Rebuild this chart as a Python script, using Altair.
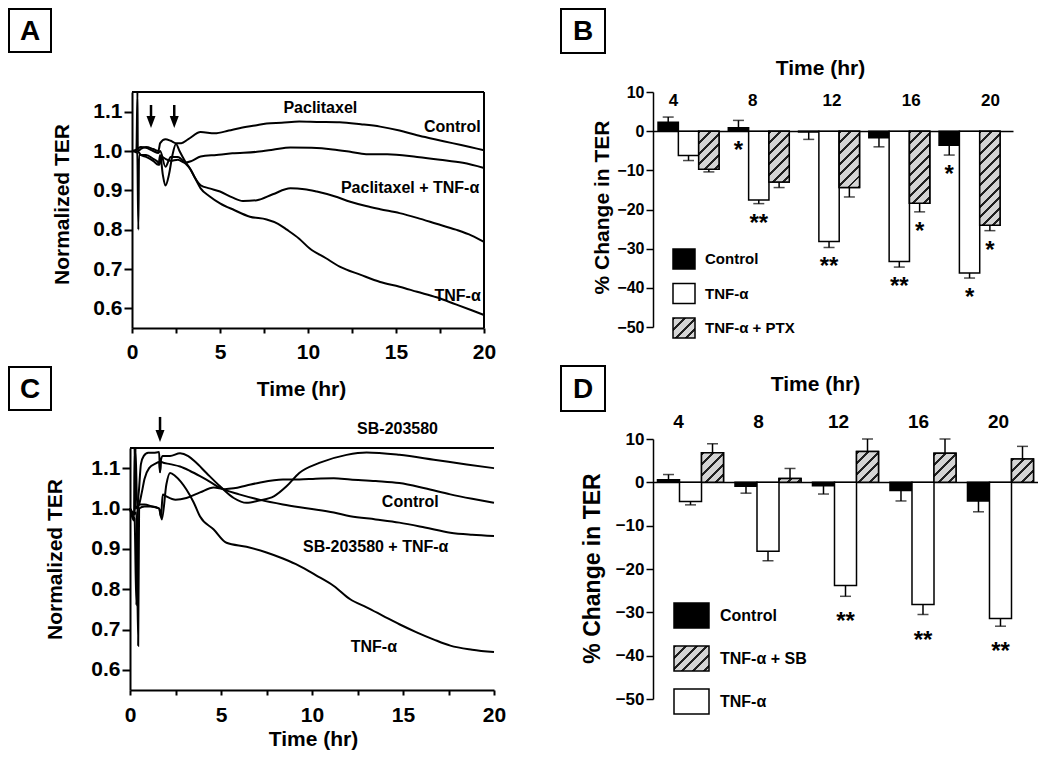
import math
import altair as alt
import pandas as pd

FONT = "Liberation Sans"

# ---------------- Panel A: normalized TER (paclitaxel experiment) ----------------
a_pac_t = [0, 0.25, 0.31, 0.33, 0.36, 0.5, 0.8, 1.2, 1.5, 1.6, 1.9, 2.2, 2.5, 2.8, 3.2, 3.9, 4.7, 5.5, 6.1, 7.0,
           7.65, 8.5, 9.5, 10.5, 11.8, 13.0, 14.1, 15.2, 16.2, 17.2, 18.2, 19.2, 20]
a_pac_v = [1.0, 1.0, 1.15, 1.0, 1.0, 1.005, 1.01, 1.005, 1.0, 1.02, 1.03, 1.026, 1.02, 1.02, 1.03, 1.048, 1.045, 1.052, 1.058, 1.065,
           1.070, 1.072, 1.075, 1.074, 1.073, 1.068, 1.062, 1.052, 1.04, 1.03, 1.02, 1.01, 1.002]
a_ctl_t = [0, 0.3, 0.36, 0.4, 0.8, 1.2, 1.5, 1.55, 1.7, 1.9, 2.2, 2.6, 3.0, 3.4, 3.9, 4.8, 5.7, 7.1, 8.0, 9.0,
           10.2, 11.4, 12.4, 13.3, 14.5, 16.2, 17.5, 18.8, 20]
a_ctl_v = [1.0, 0.995, 0.80, 0.99, 0.99, 0.98, 0.97, 0.965, 0.985, 0.98, 0.975, 0.978, 0.97, 0.975, 0.986, 0.99, 0.994, 0.998, 1.003, 1.009,
           1.008, 1.004, 0.998, 0.992, 0.992, 0.985, 0.978, 0.97, 0.957]
a_ptnf_t = [0, 0.3, 0.5, 0.8, 1.2, 1.5, 1.6, 1.75, 1.9, 2.1, 2.3, 2.5, 2.7, 3.0, 3.3, 3.6, 3.9, 4.4, 5.0, 5.7,
            6.3, 7.1, 8.0, 9.0, 9.8, 10.5, 11.5, 12.4, 13.3, 14.1, 15.2, 16.2, 17.3, 18.4, 19.3, 20]
a_ptnf_v = [1.0, 1.0, 0.99, 0.985, 0.975, 0.965, 0.99, 0.94, 0.912, 0.94, 0.99, 1.018, 1.0, 0.975, 0.955, 0.93, 0.913, 0.905, 0.897, 0.882,
            0.873, 0.875, 0.89, 0.905, 0.903, 0.897, 0.885, 0.871, 0.86, 0.852, 0.842, 0.83, 0.815, 0.80, 0.785, 0.769]
a_tnf_t = [0, 0.3, 0.5, 0.8, 1.2, 1.5, 1.6, 1.9, 2.2, 2.6, 3.0, 3.3, 3.6, 3.9, 4.4, 5.0, 5.8, 6.7, 7.65, 8.3,
           8.8, 9.5, 10.1, 11.0, 11.8, 13.0, 14.1, 15.2, 16.2, 17.3, 18.4, 19.3, 20]
a_tnf_v = [1.0, 1.005, 1.01, 1.008, 1.0, 0.995, 1.0, 0.96, 0.985, 0.985, 0.97, 0.955, 0.93, 0.905, 0.885, 0.867, 0.85, 0.833, 0.826, 0.815,
           0.80, 0.777, 0.752, 0.728, 0.706, 0.685, 0.667, 0.655, 0.642, 0.628, 0.61, 0.595, 0.583]
a_lab_text = ["Paclitaxel", "Control", "Paclitaxel + TNF-α", "TNF-α"]
a_lab_t = [10.7, 18.2, 15.8, 18.5]
a_lab_v = [1.109, 1.061, 0.906, 0.631]
a_arrow_t = [1.08, 2.4]
a_arrow_top, a_arrow_head = 1.117, 1.074

# ---------------- Panel C: normalized TER (SB-203580 experiment) ----------------
c_sb_t = [0, 0.15, 0.25, 0.35, 0.42, 0.5, 0.6, 0.75, 1.0, 1.3, 1.6, 1.65, 1.7, 1.8, 2.2, 2.75, 3.2, 3.6, 4.2, 4.95,
          5.7, 6.4, 7.1, 7.9, 8.6, 9.3, 10.4, 11.9, 13.0, 14.8, 16.7, 18.5, 20]
c_sb_v = [1.0, 0.98, 0.975, 0.76, 1.0, 1.05, 1.11, 1.13, 1.138, 1.138, 1.14, 1.09, 1.12, 1.13, 1.13, 1.137, 1.13, 1.115, 1.088, 1.055,
          1.026, 1.014, 1.02, 1.03, 1.055, 1.088, 1.113, 1.133, 1.139, 1.133, 1.121, 1.109, 1.10]
c_sbtnf_t = [0, 0.2, 0.28, 0.3, 0.4, 0.5, 0.65, 0.8, 1.05, 1.4, 1.6, 1.65, 1.7, 1.75, 2.2, 2.75, 3.3, 3.85, 4.4, 4.95,
             6.0, 7.1, 8.4, 9.8, 11.2, 12.1, 13.5, 14.8, 16.2, 17.6, 18.8, 20]
c_sbtnf_v = [1.0, 0.99, 0.99, 1.15, 1.0, 1.01, 1.04, 1.074, 1.10, 1.111, 1.115, 1.09, 1.117, 1.115, 1.11, 1.104, 1.093, 1.080, 1.066, 1.051,
             1.035, 1.022, 1.01, 1.0, 0.99, 0.981, 0.973, 0.965, 0.953, 0.94, 0.935, 0.932]
c_ctl_t = [0, 0.15, 0.22, 0.25, 0.3, 0.5, 0.8, 1.2, 1.6, 1.7, 1.8, 2.0, 2.5, 3.1, 3.85, 4.6, 5.2, 5.7, 6.4, 7.1,
           8.4, 9.3, 10.2, 11.2, 12.1, 13.5, 14.8, 16.2, 17.6, 18.8, 20]
c_ctl_v = [1.0, 0.975, 0.97, 1.15, 1.0, 1.01, 1.01, 1.005, 1.0, 0.98, 1.035, 1.03, 1.022, 1.026, 1.04, 1.052, 1.048, 1.05, 1.057, 1.064,
           1.072, 1.072, 1.074, 1.075, 1.072, 1.068, 1.063, 1.05, 1.035, 1.024, 1.014]
c_tnf_t = [0, 0.2, 0.35, 0.45, 0.5, 0.8, 1.2, 1.6, 1.75, 2.0, 2.2, 2.5, 3.1, 3.5, 3.85, 4.6, 5.3, 6.4, 7.5, 8.4,
           9.3, 10.2, 11.2, 12.1, 13.0, 13.9, 14.8, 15.75, 16.7, 17.6, 18.8, 20]
c_tnf_v = [1.0, 0.985, 0.99, 0.66, 1.0, 1.005, 1.005, 1.0, 0.973, 1.06, 1.088, 1.08, 1.047, 1.015, 0.98, 0.948, 0.915, 0.905, 0.891, 0.876,
           0.858, 0.835, 0.808, 0.775, 0.755, 0.734, 0.713, 0.693, 0.675, 0.66, 0.65, 0.644]
c_lab_text = ["SB-203580", "Control", "SB-203580 + TNF-α", "TNF-α"]
c_lab_t = [14.7, 15.4, 13.5, 13.4]
c_lab_v = [1.198, 1.015, 0.904, 0.657]
c_arrow_t = [1.65]
c_arrow_top, c_arrow_head = 1.227, 1.18

# ---------------- Panel B: % change in TER ----------------
bar_times = [4, 8, 12, 16, 20]
b_groups = ["Control", "TNF-α", "TNF-α + PTX"]
b_control = [2.3, 0.85, -0.2, -1.7, -3.6]
b_control_err = [1.3, 1.9, 1.9, 2.3, 2.5]
b_tnf = [-6.2, -17.6, -28.2, -33.3, -36.2]
b_tnf_err = [1.3, 0.9, 1.5, 1.4, 1.3]
b_ptx = [-9.7, -13.0, -14.4, -18.4, -24.0]
b_ptx_err = [0.7, 1.4, 2.4, 2.2, 1.4]
b_control_sig = ["", "*", "", "", "*"]
b_tnf_sig = ["", "**", "**", "**", "*"]
b_ptx_sig = ["", "", "", "*", "*"]

# ---------------- Panel D: % change in TER ----------------
d_groups = ["Control", "TNF-α", "TNF-α + SB"]
d_legend_order = ["Control", "TNF-α + SB", "TNF-α"]
d_control = [0.6, -0.9, -0.8, -1.9, -4.3]
d_control_err = [1.2, 1.6, 1.9, 2.4, 2.5]
d_tnf = [-4.4, -15.9, -23.8, -28.2, -31.4]
d_tnf_err = [0.8, 2.2, 2.5, 2.3, 1.8]
d_sb = [6.8, 0.9, 7.1, 6.7, 5.4]
d_sb_err = [2.1, 2.3, 2.9, 3.3, 2.9]
d_control_sig = ["", "", "", "", ""]
d_tnf_sig = ["", "", "**", "**", "**"]
d_sb_sig = ["", "", "", "", ""]

# ---------------- layout (view pixels; view origin = page (8, 8)) ----------------
W, H = 1030, 745
TS_XDOM, TS_YDOM = [0, 20], [0.55, 1.15]
BAR_YDOM = [-50, 10]
A_XR, A_YR = [124, 476], [320, 84]
C_XR, C_YR = [122, 486], [682, 440]
B_XR, B_YR = [645, 1005], [319, 84]
D_XR, D_YR = [645, 1030], [691, 431]
B_BAND = dict(paddingInner=0.132, paddingOuter=0.128, align=0.28)
D_BAND = dict(paddingInner=0.148, paddingOuter=0.058, align=0.5)

# ---------------- hatch fill (diagonal stripes as linear gradient) ----------------
HATCH_N, HATCH_FRAC, HATCH_PERIOD = 16, 0.28, 7.5
HATCH_LIGHT, HATCH_DARK = "#d4d4d4", "#202020"


def hatch_stops():
    parts = []
    for i in range(HATCH_N):
        a, b, c = i / HATCH_N, (i + HATCH_FRAC) / HATCH_N, (i + 1) / HATCH_N
        for off, col in ((a, HATCH_DARK), (b, HATCH_DARK), (b, HATCH_LIGHT), (c, HATCH_LIGHT)):
            parts.append(f"{{offset:{off:.5f},color:'{col}'}}")
    return "[" + ",".join(parts) + "]"


STOPS = hatch_stops()
SPAN = HATCH_N * HATCH_PERIOD * math.sqrt(2)


def hatch_expr(w, h):
    d = f"(({w})*({w})+({h})*({h}))"
    return (f"{{gradient:'linear',x1:0,y1:0,x2:({w})*{SPAN:.4f}/{d},"
            f"y2:({h})*{SPAN:.4f}/{d},stops:{STOPS}}}")


def band_info(xr, n, band):
    rng = xr[1] - xr[0]
    step = rng / (n - band["paddingInner"] + 2 * band["paddingOuter"])
    return step * (1 - band["paddingInner"])


def lin(v, dom, rng):
    return rng[0] + (v - dom[0]) / (dom[1] - dom[0]) * (rng[1] - rng[0])


# ---------------- time-series panel (list of flat layers) ----------------
def ts_panel(curves, lab_text, lab_t, lab_v, arr_t, arr_top, arr_head, xr, yr, right_frame,
             x_title_x, x_title_y, y_title_x, y_title_y, lab_pad):
    df = pd.concat([pd.DataFrame({"t": t, "v": v, "series": name}) for name, (t, v) in curves.items()],
                   ignore_index=True)

    def xs():
        return alt.Scale(domain=TS_XDOM, range=xr, nice=False, zero=False)

    def ys():
        return alt.Scale(domain=TS_YDOM, range=yr, nice=False, zero=False)

    xaxis = alt.Axis(orient="bottom", offset=yr[0] - H, values=[0, 2.5, 5, 7.5, 10, 12.5, 15, 17.5, 20],
                     labelExpr="datum.value % 5 == 0 ? datum.label : ''", tickSize=5, tickWidth=2,
                     domainWidth=2, labelFontSize=21, labelPadding=lab_pad, labelFlush=False,
                     labelOverlap=False, title="Time (hr)", titleFontSize=21, titleX=x_title_x,
                     titleY=x_title_y, titleBaseline="middle", titleAlign="center", grid=False)
    yaxis = alt.Axis(orient="left", offset=-xr[0], values=[0.6, 0.7, 0.8, 0.9, 1.0, 1.1], format=".1f",
                     tickSize=8, tickWidth=2, domainWidth=2, labelFontSize=21, labelPadding=2,
                     labelOverlap=False, title="Normalized TER", titleFontSize=21, titleX=y_title_x,
                     titleY=y_title_y, titleBaseline="middle", titleAlign="center", titleAngle=270,
                     grid=False)
    layers = [alt.Chart(df).mark_line(color="black", strokeWidth=2, interpolate="monotone").encode(
        x=alt.X("t:Q", scale=xs(), axis=xaxis),
        y=alt.Y("v:Q", scale=ys(), axis=yaxis),
        detail="series:N",
    )]
    frame_df = pd.DataFrame({"t0": [TS_XDOM[0]], "t1": [TS_XDOM[1]], "v0": [TS_YDOM[0]], "v1": [TS_YDOM[1]]})
    layers.append(alt.Chart(frame_df).mark_rule(color="black", strokeWidth=2).encode(
        x=alt.X("t0:Q", scale=xs(), axis=None), x2="t1:Q", y=alt.Y("v1:Q", scale=ys(), axis=None)))
    if right_frame:
        layers.append(alt.Chart(frame_df).mark_rule(color="black", strokeWidth=2).encode(
            x=alt.X("t1:Q", scale=xs(), axis=None), y=alt.Y("v0:Q", scale=ys(), axis=None), y2="v1:Q"))
    lab_df = pd.DataFrame({"t": lab_t, "v": lab_v, "text": lab_text})
    layers.append(alt.Chart(lab_df).mark_text(font=FONT, fontSize=16, fontWeight="bold", color="black").encode(
        x=alt.X("t:Q", scale=xs(), axis=None), y=alt.Y("v:Q", scale=ys(), axis=None), text="text:N"))
    arr_df = pd.DataFrame({"t": arr_t, "top": [arr_top] * len(arr_t), "head": [arr_head] * len(arr_t)})
    layers.append(alt.Chart(arr_df).mark_rule(color="black", strokeWidth=2.5).encode(
        x=alt.X("t:Q", scale=xs(), axis=None), y=alt.Y("top:Q", scale=ys(), axis=None), y2="head:Q"))
    layers.append(alt.Chart(arr_df).mark_point(shape="M-0.75,-1L0.75,-1L0,1Z", size=144, filled=True,
                                               color="black", opacity=1).encode(
        x=alt.X("t:Q", scale=xs(), axis=None), y=alt.Y("head:Q", scale=ys(), axis=None)))
    return layers


# ---------------- bar panel (list of flat layers) ----------------
def bar_panel(groups, vals, errs, sigs, legend_order, hatched, xr, yr, band, legend_kw, lab_y_size,
              y_title_size, y_title_x, y_title_y, star_dy, sym_w, sym_h):
    rows = []
    for g, vv, ee, ss in zip(groups, vals, errs, sigs):
        for t, v, e, s in zip(bar_times, vv, ee, ss):
            end = v + (e if v > 0 else -e)
            rows.append({"time": t, "group": g, "value": v, "end": end, "sig": s,
                         "star_y": min(0.0, end, v)})
    df = pd.DataFrame(rows)
    zero_y = lin(0, BAR_YDOM, yr)
    pxu = (yr[0] - yr[1]) / (BAR_YDOM[1] - BAR_YDOM[0])
    bar_w = band_info(xr, len(bar_times), band) / len(groups)

    def xs():
        return alt.Scale(type="band", domain=bar_times, range=xr, **band)

    def os_():
        return alt.Scale(type="band", domain=groups, paddingInner=0, paddingOuter=0)

    def ys():
        return alt.Scale(domain=BAR_YDOM, range=yr, nice=False)

    xaxis = alt.Axis(orient="bottom", offset=round(zero_y) - H, domain=True, domainWidth=1.5, ticks=False,
                     labels=False, title=None, grid=False)
    yaxis = alt.Axis(orient="left", offset=-xr[0], values=list(range(-50, 11, 10)), tickSize=7, tickWidth=1.5,
                     domainWidth=1.5, labelFontSize=lab_y_size, labelPadding=2, labelOverlap=False,
                     title="% Change in TER", titleFontSize=y_title_size, titleX=y_title_x, titleY=y_title_y,
                     titleBaseline="middle", titleAlign="center", titleAngle=270, grid=False)
    rng = ["black" if g == "Control" else ({"expr": hatch_expr(sym_w, sym_h)} if g == hatched else "white")
           for g in legend_order]
    r = sym_w / sym_h
    path = f"M-{r:.3f},-1H{r:.3f}V1H-{r:.3f}Z"
    legend = alt.Legend(orient="none", title=None, symbolType=path, symbolSize=sym_h * sym_h,
                        symbolStrokeColor="black", symbolStrokeWidth=1.5, symbolOpacity=1,
                        labelFont=FONT, labelFontWeight="bold", labelColor="black", padding=0,
                        labelLimit=400, direction="vertical", **legend_kw)
    bars = alt.Chart(df).mark_bar(stroke="black", strokeWidth=1.5).encode(
        x=alt.X("time:N", scale=xs(), axis=xaxis),
        xOffset=alt.XOffset("group:N", scale=os_()),
        y=alt.Y("value:Q", scale=ys(), axis=yaxis),
        fill=alt.Fill("group:N", scale=alt.Scale(domain=legend_order, range=rng), legend=legend),
    )
    hatch = alt.Chart(df).transform_filter(alt.datum.group == hatched).transform_calculate(
        grad=hatch_expr(f"{bar_w:.3f}", f"abs(datum.value)*{pxu:.4f}")
    ).mark_bar(stroke="black", strokeWidth=1.5).encode(
        x=alt.X("time:N", scale=xs(), axis=None),
        xOffset=alt.XOffset("group:N", scale=os_()),
        y=alt.Y("value:Q", scale=ys(), axis=None),
        fill=alt.Fill("grad:N", scale=None),
    )
    stems = alt.Chart(df).mark_rule(color="black", strokeWidth=1.5).encode(
        x=alt.X("time:N", scale=xs(), axis=None), xOffset=alt.XOffset("group:N", scale=os_()),
        y=alt.Y("value:Q", scale=ys(), axis=None), y2="end:Q")
    caps = alt.Chart(df).mark_tick(color="black", thickness=1.5, size=11, orient="horizontal").encode(
        x=alt.X("time:N", scale=xs(), axis=None), xOffset=alt.XOffset("group:N", scale=os_()),
        y=alt.Y("end:Q", scale=ys(), axis=None))
    stars = alt.Chart(df).mark_text(font=FONT, fontSize=24, fontWeight="bold", color="black",
                                    baseline="top", dy=star_dy).encode(
        x=alt.X("time:N", scale=xs(), axis=None), xOffset=alt.XOffset("group:N", scale=os_()),
        y=alt.Y("star_y:Q", scale=ys(), axis=None), text="sig:N")
    return [bars, hatch, stems, caps, stars]


def top_labels(xr, axis_y, lab_size, title_x, title_center_y):
    return alt.Chart(pd.DataFrame({"time": bar_times})).mark_point(opacity=0).encode(
        x=alt.X("time:O", scale=alt.Scale(type="point", domain=bar_times, range=xr, padding=0),
                axis=alt.Axis(orient="top", offset=-axis_y, domain=False, ticks=False, labelPadding=2,
                              labelFontSize=lab_size, labelAngle=0, title="Time (hr)", titleFontSize=21,
                              titleX=title_x, titleY=title_center_y - axis_y + 1, titleBaseline="middle",
                              titleAlign="center", grid=False)),
        y=alt.value(0),
    )


def panel_box(letter, x0, y0, w=42, h=43):
    d = pd.DataFrame({"lab": [letter]})
    box = alt.Chart(d).mark_rect(fill="white", stroke="black", strokeWidth=2).encode(
        x=alt.value(x0), x2=alt.value(x0 + w), y=alt.value(y0), y2=alt.value(y0 + h))
    txt = alt.Chart(d).mark_text(font=FONT, fontSize=28, fontWeight="bold", color="black",
                                 align="center", baseline="middle").encode(
        x=alt.value(x0 + w / 2), y=alt.value(y0 + h / 2 + 1), text="lab:N")
    return [box, txt]


panel_a = ts_panel({"Paclitaxel": (a_pac_t, a_pac_v), "Control": (a_ctl_t, a_ctl_v),
                    "Paclitaxel + TNF-α": (a_ptnf_t, a_ptnf_v), "TNF-α": (a_tnf_t, a_tnf_v)},
                   a_lab_text, a_lab_t, a_lab_v, a_arrow_t, a_arrow_top, a_arrow_head,
                   A_XR, A_YR, True, 293, 61, -70, 196, 8)
panel_c = ts_panel({"SB-203580": (c_sb_t, c_sb_v), "SB-203580 + TNF-α": (c_sbtnf_t, c_sbtnf_v),
                    "Control": (c_ctl_t, c_ctl_v), "TNF-α": (c_tnf_t, c_tnf_v)},
                   c_lab_text, c_lab_t, c_lab_v, c_arrow_t, c_arrow_top, c_arrow_head,
                   C_XR, C_YR, False, 305, 49, -75, 551, 9)
panel_b = bar_panel(b_groups, [b_control, b_tnf, b_ptx], [b_control_err, b_tnf_err, b_ptx_err],
                    [b_control_sig, b_tnf_sig, b_ptx_sig], b_groups, "TNF-α + PTX", B_XR, B_YR, B_BAND,
                    dict(legendX=665, legendY=240, labelFontSize=15, labelOffset=10, rowPadding=8.5),
                    16, 21, -51, 199, 8, 22, 20)
panel_d = bar_panel(d_groups, [d_control, d_tnf, d_sb], [d_control_err, d_tnf_err, d_sb_err],
                    [d_control_sig, d_tnf_sig, d_sb_sig], d_legend_order, "TNF-α + SB", D_XR, D_YR, D_BAND,
                    dict(legendX=670, legendY=594, labelFontSize=16, labelOffset=15, rowPadding=12),
                    17, 23, -61, 560, 14, 35, 25)
labels_b = top_labels([665, 982], 103, 17, 812, 59)
labels_d = top_labels([670, 990], 425, 19, 807, 375)

boxes = (panel_box("A", 1, 1) + panel_box("B", 553, 1, 44, 44)
         + panel_box("C", 1, 359) + panel_box("D", 553, 358, 44, 45))

chart = alt.layer(*panel_a, *panel_b, labels_b, *panel_c, *panel_d, labels_d, *boxes).resolve_scale(
    x="independent", y="independent", fill="independent", xOffset="independent"
).properties(
    width=W, height=H, padding=0, autosize=alt.AutoSizeParams(type="none")
).configure_view(stroke=None).configure_axis(
    labelFont=FONT, titleFont=FONT, labelFontWeight="bold", titleFontWeight="bold",
    labelColor="black", titleColor="black", domainColor="black", tickColor="black", grid=False
).configure_text(font=FONT)

chart.save("out.html", embed_options={"renderer": "svg", "actions": False})
